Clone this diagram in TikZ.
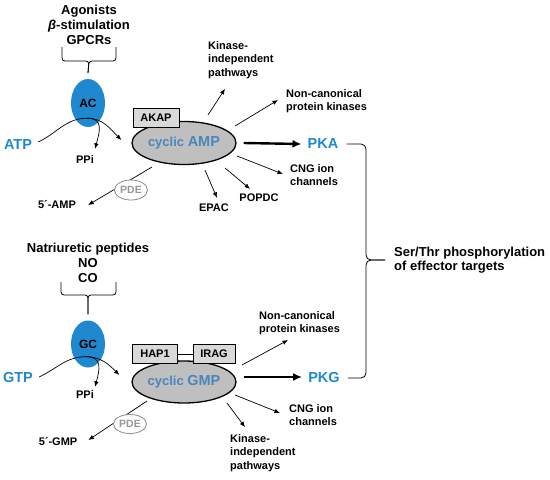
\documentclass[tikz,border=0pt]{standalone}
\usepackage{fontspec}
\setmainfont{Liberation Sans}
\usepackage{tikz}
\usetikzlibrary{arrows.meta,positioning,calc,shapes.geometric}
\definecolor{CycBlue}{HTML}{1F88CF}
\definecolor{CycText}{HTML}{4A86BC}
\definecolor{CycGray}{HTML}{BFBFBF}
\definecolor{BoxGray}{HTML}{D9D9D9}
\definecolor{PdeGray}{HTML}{8C8C8C}
\tikzset{
  cnlbl/.style={font=\bfseries\fontsize{11}{13.5}\selectfont, inner sep=1pt},
  cnhead/.style={font=\bfseries\fontsize{13}{15}\selectfont, align=center, inner sep=1pt},
  cnsub/.style={font=\bfseries\fontsize{14.5}{16}\selectfont, text=CycBlue, inner sep=1pt},
  cncyc/.style={ellipse, draw, line width=1.3pt, fill=CycGray, minimum width=104pt,
                minimum height=43pt, inner sep=0pt, text=CycText, font=\bfseries},
  cnenz/.style={ellipse, fill=CycBlue, minimum width=34pt, minimum height=48pt,
                inner sep=0pt, font=\bfseries\fontsize{12}{14}\selectfont},
  cnbox/.style={draw, line width=0.8pt, fill=BoxGray, minimum height=19pt, inner sep=0pt,
                font=\bfseries\fontsize{11}{13}\selectfont},
  cnpde/.style={ellipse, draw=PdeGray, line width=0.8pt, fill=white, minimum width=33pt,
                minimum height=20pt, inner sep=0pt, text=PdeGray!90,
                font=\bfseries\fontsize{10.5}{12}\selectfont},
  cnarr/.style={-{Latex[length=5.5pt,width=4.5pt]}, line width=0.7pt},
  cnfat/.style={-{Latex[length=9pt,width=8pt]}, line width=2.4pt},
  cnbrace/.style={line width=0.8pt, rounded corners=3pt}
}
\begin{document}
\begin{tikzpicture}[x=1pt, y=1pt]
\useasboundingbox (0,0) rectangle (550,-480);

% cAMP branch
\node[cnhead] (agon) at (89,-25) {Agonists\\{\itshape β}-stimulation\\GPCRs};
\node[cnenz] (ac) at (88,-103) {AC};
\draw[cnbrace] (62,-47) |- (89,-61) -- ($(ac.north)+(0,6)$);
\draw[cnbrace] (116,-47) |- (89,-61) -- ($(ac.north)+(0,6)$);
\node[cnsub] (atp) at (18,-145) {ATP};
\node[cnlbl] (ppiA) at (85,-160) {PPi};
\node[cncyc] (camp) at (184,-143) {\fontsize{13}{15}\selectfont cyclic \fontsize{14.5}{16}\selectfont AMP};
\node[cnbox, minimum width=46pt] (akap) at (156,-118) {AKAP};
\node[cnsub] (pka) at (323,-144) {PKA};
\coordinate (acA) at ($(ac.south)+(-1,9)$);
\draw[cnarr] ($(atp.east)+(5,3)$) to[out=25,in=180] (acA) to[out=0,in=135] ($(camp.west)+(-10,3)$);
\draw[cnarr] (acA) to[out=0,in=75,looseness=1.4] ($(ppiA.north)+(10,6)$);
\draw[cnfat] ($(camp.east)+(7,0)$) -- ($(pka.west)+(-5,0)$);

\node[cnlbl, align=left, anchor=west] (kinA) at (207,-60) {Kinase-\\independent\\pathways};
\node[cnlbl, align=left, anchor=west] (ncA) at (285,-101) {Non-canonical\\protein kinases};
\node[cnlbl, align=left, anchor=west] (cngA) at (289,-175) {CNG ion\\channels};
\node[cnlbl] (popdc) at (259,-198) {POPDC};
\node[cnlbl] (epac) at (214,-208) {EPAC};
\draw[cnarr] ($(camp)+(24,28)$) -- ($(kinA.south west)+(18,-9)$);
\draw[cnarr] ($(camp)+(51,17)$) -- ($(ncA.west)+(-7,1)$);
\draw[cnarr] ($(camp)+(53,-13)$) -- ($(cngA.west)+(-6,1)$);
\draw[cnarr] ($(camp)+(41,-25)$) -- ($(popdc.north)+(-9,4)$);
\draw[cnarr] ($(camp)+(21,-27)$) -- ($(epac.north)+(3,5)$);

\node[cnlbl] (amp5) at (57,-205) {5´-AMP};
\draw[cnarr] ($(camp)+(-32,-24)$) -- ($(amp5.east)+(11,0)$);
\node[cnpde] (pdeA) at (131,-190) {PDE};

% cGMP branch
\node[cnhead] (natr) at (88,-263) {Natriuretic peptides\\NO\\CO};
\node[cnenz, minimum height=47pt] (gc) at (88,-344) {GC};
\draw[cnbrace] (61,-282) |- (88,-295) -- ($(gc.north)+(0,6)$);
\draw[cnbrace] (116,-282) |- (88,-295) -- ($(gc.north)+(0,6)$);
\node[cnsub] (gtp) at (18,-378) {GTP};
\node[cnlbl] (ppiG) at (85,-395) {PPi};
\node[cncyc, minimum height=42pt] (cgmp) at (184,-382) {\fontsize{13}{15}\selectfont cyclic \fontsize{14.5}{16}\selectfont GMP};
\node[cnbox, minimum width=45pt] (hap) at (155,-354) {HAP1};
\node[cnbox, minimum width=42pt] (irag) at (214,-354) {IRAG};
\draw[line width=0.8pt] (hap.east) -- (irag.west);
\node[cnsub] (pkg) at (324,-378) {PKG};
\coordinate (gcA) at ($(gc.south)+(-2,11)$);
\draw[cnarr] ($(gtp.east)+(5,1)$) to[out=25,in=180] (gcA) to[out=0,in=135] ($(cgmp.west)+(-12,7)$);
\draw[cnarr] (gcA) to[out=0,in=75,looseness=1.4] ($(ppiG.north)+(10,3)$);
\draw[cnfat] ($(cgmp.east)+(7,5)$) -- ($(pkg.west)+(-5,1)$);

\node[cnlbl, align=left, anchor=west] (ncG) at (258,-323) {Non-canonical\\protein kinases};
\node[cnlbl, align=left, anchor=west] (cngG) at (288,-415) {CNG ion\\channels};
\node[cnlbl, align=left, anchor=west] (kinG) at (229,-453) {Kinase-\\independent\\pathways};
\draw[cnarr] ($(cgmp)+(58,17)$) -- ($(ncG.south west)+(30,-4)$);
\draw[cnarr] ($(cgmp)+(51,-13)$) -- ($(cngG.west)+(-8,2)$);
\draw[cnarr] ($(cgmp)+(43,-21)$) -- ($(kinG.north west)+(16,6)$);

\node[cnlbl] (gmp5) at (58,-442) {5´-GMP};
\draw[cnarr] ($(cgmp)+(-37,-19)$) -- ($(gmp5.east)+(10,2)$);
\node[cnpde, minimum height=19pt] (pdeG) at (130,-424) {PDE};

% common output
\node[cnhead, align=left, anchor=west, font=\bfseries\fontsize{13}{14}\selectfont] (serthr) at (393,-260) {Ser/Thr phosphorylation\\of effector targets};
\coordinate (sertip) at ($(serthr.west)+(-8,0)$);
\draw[cnbrace, rounded corners=5pt] ($(pka.east)+(7,0)$) -| ($(sertip)+(-19,0)$) -- (sertip);
\draw[cnbrace, rounded corners=5pt] ($(pkg.east)+(7,0)$) -| ($(sertip)+(-19,0)$) -- (sertip);
\end{tikzpicture}
\end{document}
